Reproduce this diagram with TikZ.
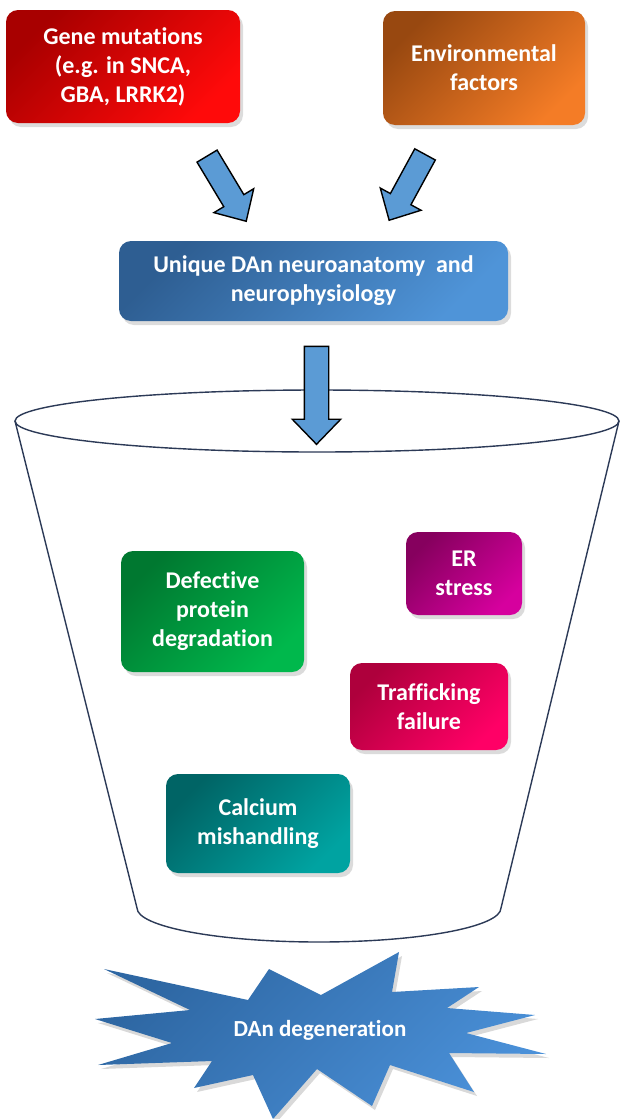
\documentclass[tikz,border=0pt]{standalone}
\usepackage{fontspec}
\setmainfont{Carlito}[Ligatures=NoCommon]
\usepackage{xcolor}
\usetikzlibrary{positioning,shapes.arrows,shadows}

\definecolor{geneA}{HTML}{A80000}
\definecolor{geneB}{HTML}{FF0A0A}
\definecolor{envA}{HTML}{984810}
\definecolor{envB}{HTML}{F47C26}
\definecolor{danA}{HTML}{2E5E92}
\definecolor{danB}{HTML}{4F94D8}
\definecolor{protA}{HTML}{007830}
\definecolor{protB}{HTML}{00B84C}
\definecolor{erA}{HTML}{86005E}
\definecolor{erB}{HTML}{D6009E}
\definecolor{trafA}{HTML}{AE003C}
\definecolor{trafB}{HTML}{FF0066}
\definecolor{calcA}{HTML}{006465}
\definecolor{calcB}{HTML}{00A3A1}
\definecolor{burstA}{HTML}{2E67A3}
\definecolor{burstB}{HTML}{4A90D8}
\definecolor{arrblue}{HTML}{5B9BD5}
\definecolor{rim}{HTML}{2C3A57}

\begin{document}
\begin{tikzpicture}[
  x=1pt, y=-1pt,
  font=\fontsize{24}{29}\selectfont\bfseries,
  base/.style={rounded corners=12pt, text=white, align=center, inner sep=0pt,
    drop shadow={opacity=0.28, shadow xshift=3pt, shadow yshift=-4pt}},
  gene/.style={base, top color=geneA, bottom color=geneB, shading angle=45},
  env/.style={base, top color=envA, bottom color=envB, shading angle=45},
  dan/.style={base, top color=danA, bottom color=danB, shading angle=45},
  prot/.style={base, top color=protA, bottom color=protB, shading angle=45},
  er/.style={base, top color=erA, bottom color=erB, shading angle=45},
  traf/.style={base, top color=trafA, bottom color=trafB, shading angle=45},
  calc/.style={base, top color=calcA, bottom color=calcB, shading angle=45},
  blk/.style={single arrow, draw=black, line width=1.4pt, fill=arrblue,
    inner xsep=0pt, inner ysep=11pt, single arrow head extend=11.5pt,
    single arrow tip angle=88},
  funnel/.style={draw=rim, line width=1.4pt}
]
\useasboundingbox (0,0) rectangle (621,1119);
% top row
\node[gene, minimum width=234pt, minimum height=113pt] (gene) at (123,66.5) {Gene mutations\\(e.g. in SNCA,\\GBA, LRRK2)};
\node[env, minimum width=202pt, minimum height=114pt] (env) at (484,68) {Environmental\\factors};
\node[blk, minimum height=76pt, rotate=-59] (arrgene) at (223.5,183.5) {};
\node[blk, minimum height=75pt, rotate=-118.6] (arrenv) at (410,182) {};
% middle
\node[dan, minimum width=389pt, minimum height=80pt] (dan) at (313.5,281) {Unique DAn neuroanatomy \ and\\neurophysiology};
% funnel
\draw[funnel, fill=white] (15,421) -- (137,908)
  arc[start angle=180, end angle=0, x radius=182, y radius=34] -- (619,421);
\draw[funnel, fill=white] (317,421) ellipse [x radius=302, y radius=31];
\node[blk, minimum height=98pt, inner ysep=11.5pt, single arrow head extend=12pt, rotate=-90] (arrdan) at (316.5,389) {};
% inside the funnel
\node[prot, minimum width=183pt, minimum height=121pt] (prot) at (212.5,611.5) {Defective\\protein\\degradation};
\node[er, minimum width=116pt, minimum height=83pt] (er) at (464,573.5) {ER\\stress};
\node[traf, minimum width=158pt, minimum height=87pt] (traf) at (429,706.5) {Trafficking\\failure};
\node[calc, minimum width=184pt, minimum height=99pt] (calc) at (258,823.5) {Calcium\\mishandling};
% outcome
\path[top color=burstA, bottom color=burstB, shading angle=45,
  drop shadow={opacity=0.3, shadow xshift=3pt, shadow yshift=-4pt}]
  (104,969) -- (248,1000) -- (269,969) -- (321,995) -- (399,952) -- (392,992)
  -- (479,987) -- (447,1008) -- (535,1015) -- (466,1033) -- (546,1054)
  -- (449,1053) -- (474,1092) -- (390,1065) -- (372,1106) -- (317,1069)
  -- (273,1119) -- (253,1075) -- (194,1088) -- (212,1061) -- (98,1065)
  -- (172,1043) -- (95,1019) -- (190,1010) -- cycle;
\node[text=white, font=\fontsize{23}{28}\selectfont\bfseries] (degen) at (320,1030) {DAn degeneration};
\end{tikzpicture}
\end{document}
